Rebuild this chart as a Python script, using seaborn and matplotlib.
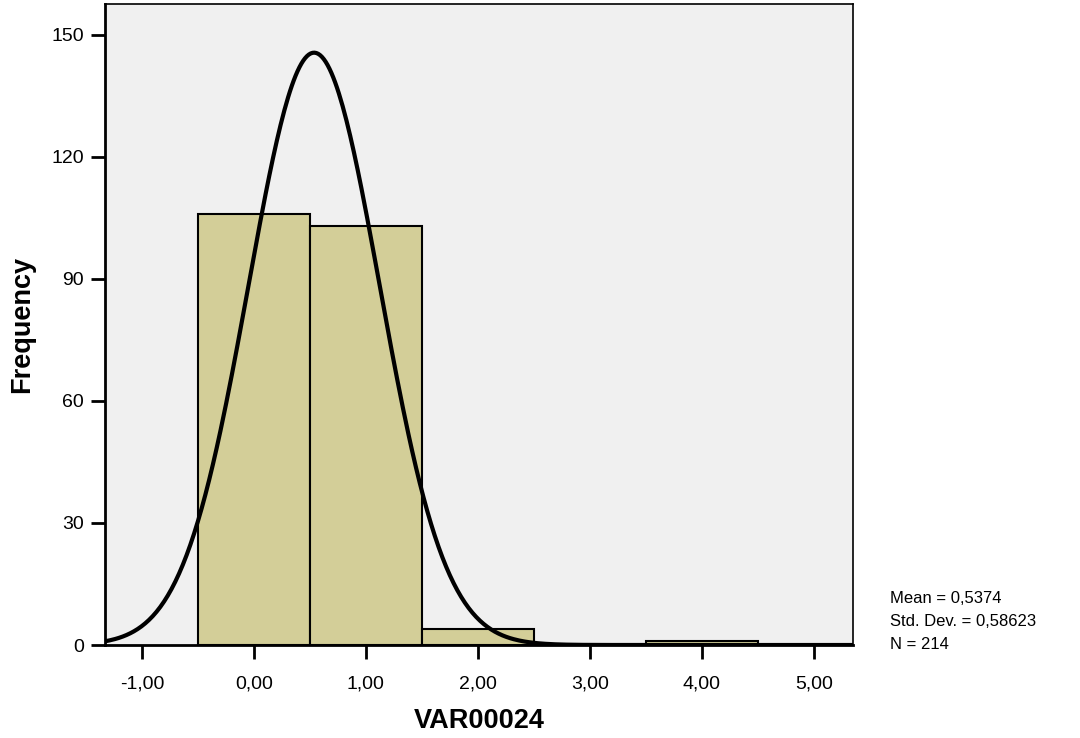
import numpy as np
import matplotlib
matplotlib.use("Agg")
import matplotlib.pyplot as plt
import seaborn as sns

# histogram data (bin centres and counts)
bin_centres = [0, 1, 2, 3, 4]
counts = [106, 103, 4, 0, 1]
bin_edges = [-0.5, 0.5, 1.5, 2.5, 3.5, 4.5]

# summary stats printed beside the chart
mean = 0.5374
std_dev = 0.58623
n = 214

x_ticks = [-1, 0, 1, 2, 3, 4, 5]
x_tick_labels = ["-1,00", "0,00", "1,00", "2,00", "3,00", "4,00", "5,00"]
y_ticks = [0, 30, 60, 90, 120, 150]

sns.set_style("white")
plt.rcParams["font.family"] = ["Liberation Sans", "DejaVu Sans"]
plt.rcParams["text.color"] = "black"
plt.rcParams["axes.labelcolor"] = "black"
plt.rcParams["xtick.color"] = "black"
plt.rcParams["ytick.color"] = "black"

fig = plt.figure(figsize=(10.8, 7.38), dpi=100)
ax = fig.add_axes([0.0972, 0.126, 0.6926, 0.8686])
ax.set_facecolor("#F0F0F0")

sns.histplot(x=bin_centres, weights=counts, bins=bin_edges, ax=ax,
             color="#D3CE98", alpha=1, edgecolor="black", linewidth=1.5)

# normal curve from the reported mean / sd, scaled to counts (bin width 1)
xs = np.linspace(-1.34, 5.36, 400)
ys = n / (std_dev * np.sqrt(2 * np.pi)) * np.exp(-0.5 * ((xs - mean) / std_dev) ** 2)
sns.lineplot(x=xs, y=ys, ax=ax, color="black", linewidth=3)

ax.set_xlim(-1.33, 5.35)
ax.set_ylim(0, 157.6)
ax.set_xticks(x_ticks)
ax.set_xticklabels(x_tick_labels)
ax.set_yticks(y_ticks)
ax.tick_params(axis="both", direction="out", length=10, width=2, labelsize=14,
               bottom=True, left=True, pad=5)
ax.tick_params(axis="x", pad=12)
for side in ["left", "bottom"]:
    ax.spines[side].set_linewidth(2)
for side in ["top", "right"]:
    ax.spines[side].set_linewidth(1.2)
for sp in ax.spines.values():
    sp.set_color("black")

ax.set_xlabel("VAR00024", fontsize=19.5, fontweight="bold", labelpad=11)
ax.set_ylabel("Frequency", fontsize=19.5, fontweight="bold", labelpad=12)

fig.text(0.824, 0.199, "Mean = 0,5374\nStd. Dev. = 0,58623\nN = 214",
         fontsize=12, va="top", ha="left", linespacing=1.68)

fig.savefig("out.png", dpi=100)
